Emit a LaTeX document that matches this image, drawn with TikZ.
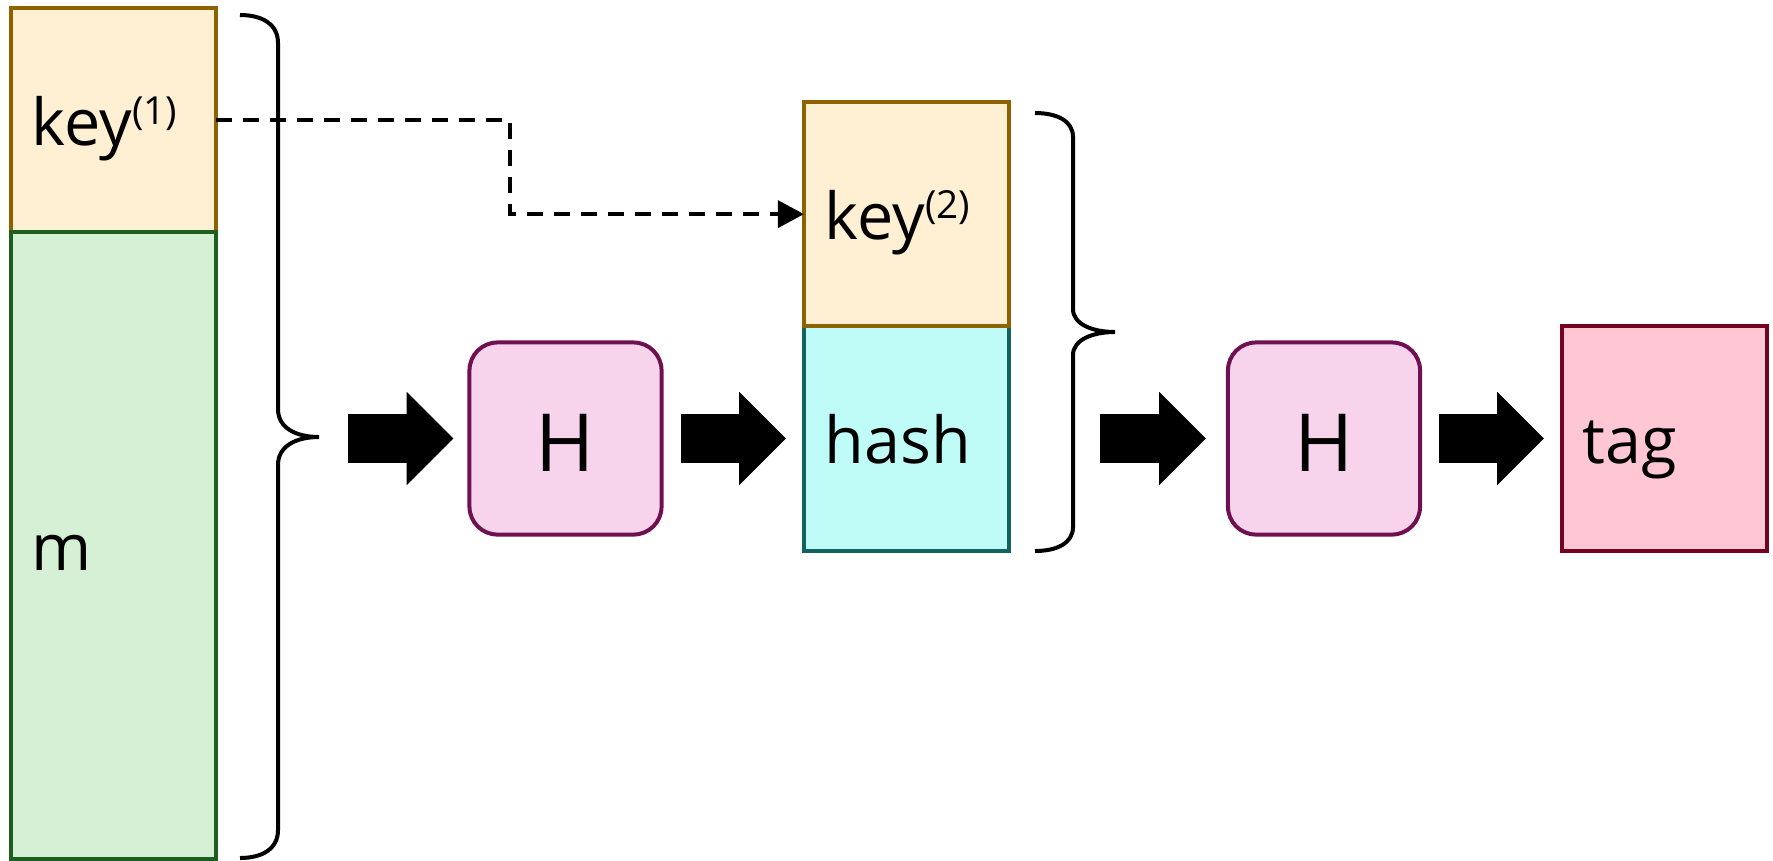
\documentclass[tikz,border=0pt]{standalone}
\usepackage{fontspec}
\setmainfont{Open Sans}
\usepackage{tikz}
\usetikzlibrary{arrows.meta,positioning,calc}

\definecolor{keyfill}{HTML}{FFF0D3}
\definecolor{keyline}{HTML}{8F6200}
\definecolor{msgfill}{HTML}{D5F0D4}
\definecolor{msgline}{HTML}{1E5E1E}
\definecolor{hfill}{HTML}{F8D3EC}
\definecolor{hline}{HTML}{6F1150}
\definecolor{hashfill}{HTML}{BFFCF8}
\definecolor{hashline}{HTML}{10635E}
\definecolor{tagfill}{HTML}{FFC6D3}
\definecolor{tagline}{HTML}{76001F}

\newcommand{\keyidx}[1]{\raisebox{0.21cm}{\fontsize{11pt}{12pt}\selectfont(#1)}}

\begin{document}
\begin{tikzpicture}[x=0.01cm, y=-0.01cm,
	field/.style={draw, line width=0.04cm, outer sep=0pt, inner xsep=0.21cm, inner ysep=0pt, text width=1.63cm, align=left, text height=0.5cm, text depth=0pt, font=\fontsize{18.4pt}{22pt}\selectfont},
	keyfield/.style={field, draw=keyline, fill=keyfill, minimum height=2.245cm},
	msgfield/.style={field, draw=msgline, fill=msgfill, minimum height=6.26cm},
	hashfield/.style={field, draw=hashline, fill=hashfill, minimum height=2.24cm},
	tagfield/.style={field, draw=tagline, fill=tagfill, minimum height=2.24cm},
	hbox/.style={draw=hline, fill=hfill, line width=0.04cm, rounded corners=0.28cm, minimum size=1.92cm, inner sep=0pt, text height=0.66cm, text depth=0pt, font=\fontsize{22.8pt}{26pt}\selectfont},
	brace/.style={line width=0.04cm},
	blockarr/.style={line width=0.487cm, -{Triangle[length=0.467cm, width=0.933cm, line width=0pt]}},
	keyarr/.style={line width=0.035cm, dash pattern=on 0.16cm off 0.11cm, -{Triangle[length=0.26cm, width=0.27cm]}}]
	\useasboundingbox (0,0) rectangle (1773,860);

	% first pass: key(1) followed by the message
	\node[keyfield] (key1) at (113.5,120) {key\keyidx{1}};
	\node[msgfield, below=0pt of key1] (msg) {m};
	\draw[brace] (240,15) .. controls (262,15) and (278,24) .. (278,43) -- (278,409)
		.. controls (278,428) and (296,437) .. (319,437)
		.. controls (296,437) and (278,446) .. (278,465) -- (278,830)
		.. controls (278,849) and (262,858) .. (240,858);
	\node[hbox] (h1) at (565.5,438.5) {H};

	% second pass: key(2) followed by the inner hash
	\node[hashfield] (hash) at (906.5,438.5) {hash};
	\node[keyfield, above=0pt of hash] (key2) {key\keyidx{2}};
	\draw[brace] (1035,113) .. controls (1057,113) and (1073,121) .. (1073,137) -- (1073,309)
		.. controls (1073,324) and (1092,332) .. (1115,332)
		.. controls (1092,332) and (1073,340) .. (1073,355) -- (1073,527)
		.. controls (1073,543) and (1057,551) .. (1035,551);
	\node[hbox] (h2) at (1324,438.5) {H};
	\node[tagfield] (tag) at (1664.5,438.5) {tag};

	\draw[keyarr] (key1.east) -| ($(key1.east)!0.5!(key2.west)$) |- (key2.west);

	\draw[blockarr] ([xshift=-1.19cm]h1.west) -- ([xshift=-0.14cm]h1.west);
	\draw[blockarr] ([xshift=0.17cm]h1.east) -- ([xshift=-0.18cm]hash.west);
	\draw[blockarr] ([xshift=-1.26cm]h2.west) -- ([xshift=-0.2cm]h2.west);
	\draw[blockarr] ([xshift=0.17cm]h2.east) -- ([xshift=-0.18cm]tag.west);
\end{tikzpicture}
\end{document}
